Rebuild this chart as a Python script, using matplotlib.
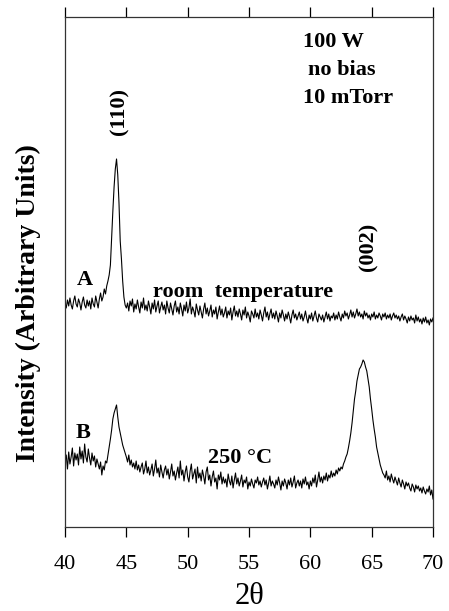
import numpy as np
import matplotlib
matplotlib.use("Agg")
import matplotlib.pyplot as plt

# 2-theta grid, 0.1 degree steps from 40 to 70
two_theta = np.round(np.arange(40.0, 70.05, 0.1), 1)

# curve A: room temperature (arbitrary units)
intensity_a = [
    224, 219, 227, 221, 229, 222, 218, 226, 231, 223,
    220, 228, 224, 217, 225, 230, 222, 219, 227, 221,
    226, 218, 229, 223, 220, 231, 225, 219, 228, 234,
    226, 230, 238, 233, 241, 246, 252, 262, 290, 316,
    340, 358, 368, 352, 324, 286, 268, 246, 230, 222,
    219, 224, 216, 226, 221, 228, 215, 223, 218, 227,
    220, 214, 225, 219, 229, 217, 222, 216, 226, 220,
    213, 224, 218, 227, 215, 221, 226, 214, 220, 225,
    217, 222, 213, 226, 219, 214, 224, 218, 212, 221,
    226, 215, 220, 213, 224, 218, 211, 222, 216, 225,
    214, 219, 228, 213, 220, 216, 210, 223, 217, 212,
    221, 215, 209, 218, 224, 213, 219, 211, 216, 222,
    210, 217, 213, 220, 208, 215, 221, 212, 218, 210,
    214, 220, 209, 216, 212, 219, 207, 215, 221, 211,
    216, 210, 218, 213, 207, 217, 212, 220, 209, 215,
    211, 205, 216, 213, 209, 218, 210, 214, 208, 217,
    212, 206, 214, 220, 210, 215, 207, 213, 218, 209,
    214, 208, 216, 211, 205, 214, 209, 217, 212, 206,
    213, 208, 215, 210, 204, 212, 217, 209, 213, 207,
    211, 215, 208, 213, 206, 210, 216, 209, 204, 212,
    208, 214, 206, 211, 216, 209, 205, 213, 210, 207,
    212, 205, 210, 215, 208, 213, 206, 211, 209, 214,
    207, 212, 208, 215, 210, 206, 213, 209, 216, 211,
    214, 208, 212, 217, 210, 215, 209, 213, 218, 211,
    215, 210, 213, 208, 216, 211, 214, 209, 212, 207,
    213, 210, 215, 208, 212, 209, 214, 211, 207, 213,
    210, 214, 208, 212, 209, 213, 207, 211, 214, 209,
    212, 208, 211, 206, 210, 213, 207, 211, 208, 204,
    210, 206, 211, 207, 209, 204, 212, 206, 210, 205,
    208, 203, 209, 205, 210, 204, 207, 202, 208, 205,
    209,
]

# curve B: 250 C
intensity_b = [
    66, 72, 58, 75, 63, 70, 79, 61, 74, 67,
    73, 62, 80, 68, 76, 64, 83, 70, 65, 78,
    69, 62, 74, 66, 71, 60, 68, 63, 58, 65,
    52, 61, 57, 66, 64, 72, 80, 88, 97, 108,
    114, 118, 122, 110, 100, 94, 88, 82, 78, 74,
    70, 65, 72, 62, 67, 60, 64, 58, 66, 57,
    62, 55, 60, 64, 53, 58, 66, 54, 60, 52,
    57, 63, 51, 58, 67, 54, 59, 50, 62, 55,
    49, 57, 61, 52, 58, 48, 55, 63, 51, 56,
    47, 54, 60, 49, 66, 52, 57, 46, 55, 61,
    50, 45, 56, 63, 48, 53, 58, 44, 60, 49,
    54, 46, 57, 51, 43, 55, 60, 47, 52, 41,
    50, 56, 45, 49, 38, 52, 47, 55, 43, 50,
    44, 48, 40, 53, 46, 42, 51, 39, 47, 54,
    43, 49, 41, 46, 52, 40, 47, 44, 50, 38,
    45, 41, 48, 43, 39, 47, 44, 50, 42, 46,
    40, 45, 49, 42, 47, 38, 44, 51, 41, 46,
    43, 39, 47, 42, 50, 44, 37, 46, 41, 48,
    44, 38, 47, 42, 49, 40, 45, 51, 39, 44,
    47, 41, 46, 39, 48, 43, 50, 42, 45, 38,
    46, 41, 49, 44, 52, 40, 47, 55, 45, 50,
    44, 51, 47, 54, 46, 52, 49, 56, 50, 54,
    51, 57, 53, 59, 56, 60, 58, 63, 66, 70,
    73, 79, 86, 94, 104, 116, 128, 136, 146, 152,
    158, 160, 163, 167, 165, 160, 156, 148, 140, 128,
    118, 107, 98, 90, 80, 74, 68, 62, 58, 54,
    52, 49, 56, 47, 51, 45, 53, 48, 44, 50,
    46, 42, 49, 44, 40, 47, 43, 38, 45, 41,
    44, 39, 36, 43, 40, 35, 42, 38, 41, 36,
    39, 34, 40, 36, 33, 38, 35, 41, 32, 37,
    28,
]

x_ticks = [40, 45, 50, 55, 60, 65, 70]

plt.rcParams["font.family"] = ["Liberation Serif", "DejaVu Serif"]

fig = plt.figure(figsize=(4.49, 6.11), dpi=100)
ax = fig.add_axes([0.1448, 0.1375, 0.8196, 0.8347])

ax.plot(two_theta, intensity_a, color="black", linewidth=0.8)
ax.plot(two_theta, intensity_b, color="black", linewidth=0.8)

ax.set_xlim(40, 70)
ax.set_ylim(0, 510)
ax.set_xticks(x_ticks)
ax.set_yticks([])
ax.tick_params(axis="x", which="both", direction="out", length=7, width=0.9,
               top=True, labeltop=False, labelsize=16, pad=13)
for spine in ax.spines.values():
    spine.set_linewidth(0.9)
    spine.set_color("#333333")

ax.set_xlabel("2θ", fontsize=22, va="center")
ax.xaxis.set_label_coords(0.5, -0.137)
fig.text(28 / 449, 1 - 303 / 611, "Intensity (Arbitrary Units)", fontsize=20,
         fontweight="bold", rotation=90, ha="center", va="center")

bold = dict(fontweight="bold", color="black", fontsize=16)
ax.text(59.4, 480, "100 W", ha="left", va="baseline", **bold)
ax.text(59.8, 452, "no bias", ha="left", va="baseline", **bold)
ax.text(59.4, 424, "10 mTorr", ha="left", va="baseline", **bold)
ax.text(44.48, 415, "(110)", rotation=90, ha="center", va="center", **bold)
ax.text(64.78, 280, "(002)", rotation=90, ha="center", va="center", **bold)
ax.text(41.6, 242, "A", ha="center", va="baseline", **bold)
ax.text(47.17, 230, "room  temperature", ha="left", va="baseline", **bold)
ax.text(41.5, 89, "B", ha="center", va="baseline", **bold)
ax.text(51.65, 64, "250 °C", ha="left", va="baseline", **bold)

fig.savefig("out.png", dpi=100)
